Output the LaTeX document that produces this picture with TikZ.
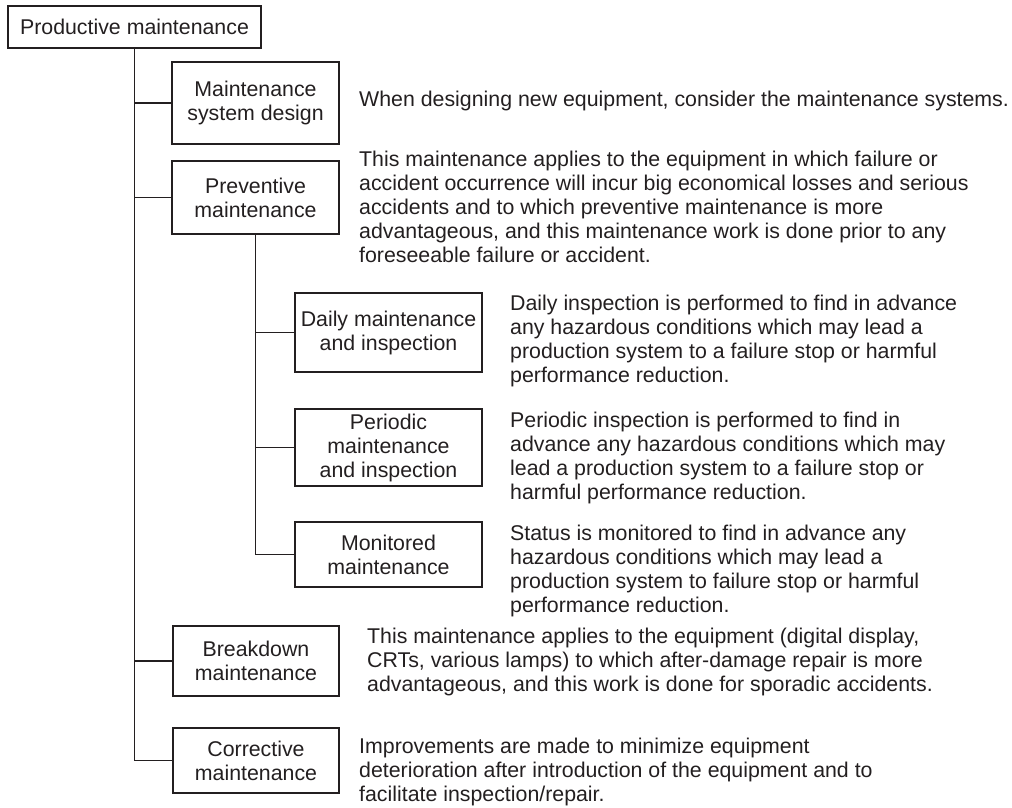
\documentclass[tikz,border=0pt]{standalone}
\usepackage{fontspec}
\setmainfont{Liberation Sans}
\definecolor{ink}{RGB}{35,31,32}
\newcommand\labfont{\fontsize{21.33}{24}\selectfont}
\newcommand\descfont{\fontsize{21.33}{24}\selectfont}
\begin{document}
\begin{tikzpicture}[x=1pt,y=-1pt,
  box/.style={draw=ink, line width=1.2pt, inner sep=0pt, align=center, font=\labfont, text=ink},
  desc/.style={anchor=north west, inner sep=0pt, align=left, font=\descfont, text=ink},
  link/.style={draw=ink, line width=1.2pt}]
\useasboundingbox (0,0) rectangle (1012,807);
% boxes
\node[box, minimum width=253pt, minimum height=42pt] (pm) at (134.5,27) {Productive maintenance};
\node[box, minimum width=167pt, minimum height=82pt] (msd) at (255.5,103) {Maintenance\\system design};
\node[box, minimum width=167pt, minimum height=73pt] (prev) at (255.5,197.5) {Preventive\\maintenance};
\node[box, minimum width=187pt, minimum height=79pt] (daily) at (388.5,332.5) {Daily maintenance\\and inspection};
\node[box, minimum width=187pt, minimum height=77pt] (periodic) at (388.5,447.5) {Periodic\\maintenance\\and inspection};
\node[box, minimum width=187pt, minimum height=65pt] (monitored) at (388.5,554.5) {Monitored\\maintenance};
\node[box, minimum width=166pt, minimum height=70pt] (breakdown) at (256,661) {Breakdown\\maintenance};
\node[box, minimum width=166pt, minimum height=65pt] (corrective) at (256,760.5) {Corrective\\maintenance};
% descriptions
\node[desc] (tmsd) at (359,89.2) {\strut When designing new equipment, consider the maintenance systems.};
\node[desc] (tprev) at (359,149.2) {\strut This maintenance applies to the equipment in which failure or\\accident occurrence will incur big economical losses and serious\\accidents and to which preventive maintenance is more\\advantageous, and this maintenance work is done prior to any\\foreseeable failure or accident.};
\node[desc] (tdaily) at (510,293.2) {\strut Daily inspection is performed to find in advance\\any hazardous conditions which may lead a\\production system to a failure stop or harmful\\performance reduction.};
\node[desc] (tperiodic) at (510,410.2) {\strut Periodic inspection is performed to find in\\advance any hazardous conditions which may\\lead a production system to a failure stop or\\harmful performance reduction.};
\node[desc] (tmonitored) at (510,523.2) {\strut Status is monitored to find in advance any\\hazardous conditions which may lead a\\production system to failure stop or harmful\\performance reduction.};
\node[desc] (tbreakdown) at (367,626.2) {\strut This maintenance applies to the equipment (digital display,\\CRTs, various lamps) to which after-damage repair is more\\advantageous, and this work is done for sporadic accidents.};
\node[desc] (tcorrective) at (359,736.2) {\strut Improvements are made to minimize equipment\\deterioration after introduction of the equipment and to\\facilitate inspection/repair.};
% connectors
\draw[link] (pm.south) |- (corrective.west);
\draw[link] (pm.south |- msd.west) -- (msd.west);
\draw[link] (pm.south |- prev.west) -- (prev.west);
\draw[link] (pm.south |- breakdown.west) -- (breakdown.west);
\draw[link] (prev.south) |- (monitored.west);
\draw[link] (prev.south |- daily.west) -- (daily.west);
\draw[link] (prev.south |- periodic.west) -- (periodic.west);
\end{tikzpicture}
\end{document}
